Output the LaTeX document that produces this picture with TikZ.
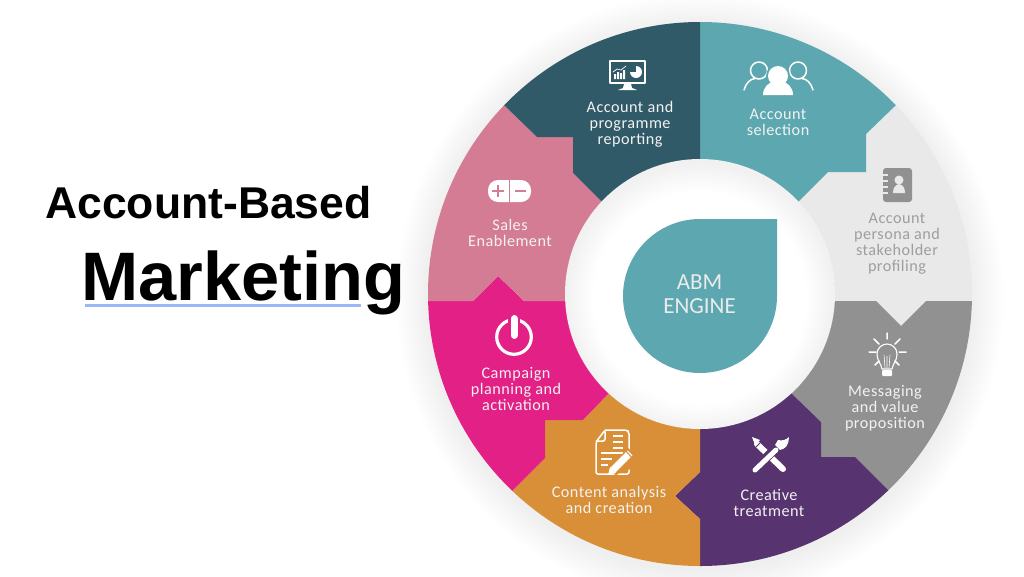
\documentclass[tikz,border=0pt]{standalone}
\usepackage{fontspec}
\setmainfont{Liberation Sans}
\newfontfamily\labfont[LetterSpace=3]{Carlito}
\newfontfamily\engfont{Carlito}
\definecolor{cteal}{HTML}{5DA8B0}
\definecolor{cdark}{HTML}{305A68}
\definecolor{clight}{HTML}{E9E9E9}
\definecolor{cgray}{HTML}{919191}
\definecolor{cpurple}{HTML}{57336F}
\definecolor{corange}{HTML}{D98F38}
\definecolor{cmag}{HTML}{E32085}
\definecolor{cpink}{HTML}{D47C94}
\definecolor{cunder}{HTML}{9AB8F5}
\tikzset{
  lab/.style={align=center,inner sep=0pt,font=\labfont\fontsize{16.2}{16}\selectfont,text=white!95!black},
  ico/.style={draw=white,line width=1.5pt,line cap=round,line join=round},
}
\begin{document}
\begin{tikzpicture}[x=1pt,y=-1pt]
\useasboundingbox (0,0) rectangle (1024,576);
\fill[white] (0,0) rectangle (1024,576);
% outer soft shadow
\foreach \i in {1,...,16} \fill[black,opacity=0.004] (700,298) circle ({272+\i*2});
% title
\draw[cunder,line width=3pt] (85,305) -- (361,305);
\node[anchor=base west,inner sep=0pt,font=\fontsize{44.5}{44.5}\selectfont\bfseries] (t1) at (45,218) {Account-Based};
\node[anchor=base west,inner sep=0pt,font=\fontsize{68.6}{68.6}\selectfont\bfseries] (t2) at (81,300) {Marketing};
% ring
\begin{scope}
\clip (700,294) circle (272);
\fill[clight] (700,294)--(770,230)--(799,201)--(828,172)--(866,172)--(866,134)--(895,106)--(925,77)--(1010,77)--(1010,301)--(926,301)--(901,326)--(876,301)--(700,301)--cycle;
\fill[cteal] (700,294)--(700,0)--(925,0)--(925,77)--(895,106)--(866,134)--(866,172)--(828,172)--(799,201)--(770,230)--cycle;
\fill[cgray] (700,301)--(876,301)--(901,326)--(926,301)--(1010,301)--(1010,532)--(930,532)--(887,489)--(855,457)--(821,457)--(821,422)--(792,394)--(760,362)--(700,294)--cycle;
\fill[cpurple] (700,294)--(760,362)--(792,394)--(821,422)--(821,457)--(855,457)--(887,489)--(930,532)--(930,576)--(700,576)--(700,519)--(675,496)--(700,472)--cycle;
\fill[corange] (700,294)--(700,472)--(675,496)--(700,519)--(700,576)--(470,576)--(470,533)--(513,490)--(545,458)--(545,420)--(583,420)--(608,394)--(640,362)--cycle;
\fill[cmag] (700,294)--(640,362)--(608,394)--(583,420)--(545,420)--(545,458)--(513,490)--(470,533)--(390,533)--(390,301)--(473,301)--(498,276)--(524,301)--(700,301)--cycle;
\fill[cpink] (700,301)--(524,301)--(498,276)--(473,301)--(390,301)--(390,72)--(470,72)--(505,106)--(537,137)--(573,137)--(573,173)--(601,201)--(630,230)--(700,294)--cycle;
\fill[cdark] (700,294)--(630,230)--(601,201)--(573,173)--(573,137)--(537,137)--(505,106)--(470,72)--(470,0)--(700,0)--cycle;
\end{scope}
% inner white hole with soft shade
\fill[white] (700,294) circle (135);
\begin{scope}
\clip (700,294) circle (135);
\foreach \i in {1,...,14} \fill[black,opacity=0.004,even odd rule] (700,294) circle (136) (700,298) circle ({135-\i*2});
\end{scope}
% central drop
\fill[cteal] (777,219) -- (777,296) arc (0:270:77 and 77) -- cycle;
\node[align=center,inner sep=0pt,text=white!92!black,font=\engfont\fontsize{23}{23.5}\selectfont] (eng) at (699.5,294) {ABM\\ENGINE};
% labels
\node[lab] (l1) at (630,124) {Account and\\programme\\reporting};
\node[lab] (l2) at (778,122.5) {Account\\selection};
\node[lab,text=black!38] (l3) at (897,243.5) {Account\\persona and\\stakeholder\\profiling};
\node[lab] (l4) at (885,408.5) {Messaging\\and value\\proposition};
\node[lab] (l5) at (769,502.5) {Creative\\treatment};
\node[lab] (l6) at (609,499.5) {Content analysis\\and creation};
\node[lab] (l7) at (516,388.5) {Campaign\\planning and\\activation};
\node[lab] (l8) at (510,232.5) {Sales\\Enablement};
% icon: monitor
\draw[ico] (610,61) rectangle (645,83);
\fill[white] (624,84)--(631,84)--(632,88)--(637,90)--(618,90)--(623,88)--cycle;
\fill[white] (614,74) rectangle (616,79) (617,72) rectangle (619,79) (620,73) rectangle (622,79) (623,70) rectangle (625,79);
\draw[white,line width=.7pt] (613,72)--(617,69)--(621,70)--(626,66);
\fill[white] (636,72) -- (636,66) arc (270:540:6) -- cycle;
% icon: people
\draw[ico] (759,70.5) circle (8.5) (798,70.5) circle (8.5);
\draw[ico] (744,90) .. controls (746,83) and (750,79) .. (755,78.5);
\draw[ico] (813,90) .. controls (811,83) and (807,79) .. (802,78.5);
\fill[cteal] (778,76) circle (12);
\fill[white] (778,76) circle (10);
\fill[white] (763,95) .. controls (763,87) and (769,82) .. (775,81) -- (781,81) .. controls (787,82) and (793,87) .. (793,95) -- cycle;
% icon: notebook
\fill[cgray,rounded corners=3pt] (883,168) rectangle (912,202);
\draw[clight,line width=1.4pt] (882,175)--(888,175) (882,181)--(888,181) (882,187)--(888,187) (882,193)--(888,193);
\fill[clight] (899,180) circle (4.5);
\fill[clight] (893,193) .. controls (893,188) and (895,185) .. (899,184) .. controls (903,185) and (905,188) .. (905,193) -- cycle;
% icon: bulb
\draw[ico] (887,333)--(887,339) (869,352)--(876,352) (899,352)--(906,352) (874,339)--(879,344) (900,339)--(895,344) (875,365)--(879,361) (899,365)--(895,361);
\draw[ico,line width=1.1pt] (882,369) .. controls (881,363) and (877,361) .. (877,354) .. controls (877,348) and (882,344) .. (887,344) .. controls (892,344) and (897,348) .. (897,354) .. controls (897,361) and (893,363) .. (892,369) -- cycle;
\draw[white,line width=.6pt] (885,368)--(884,355) (889,368)--(890,355) (887,368)--(887,356);
\fill[white,rounded corners=1pt] (882,370) rectangle (892,376);
% icon: pencil and brush
\draw[white,line width=6pt,line cap=round] (757,444)--(783,469);
\fill[white] (752,437)--(760,440)--(755,445)--cycle;
\draw[cpurple,line width=1pt] (756,447)--(761,442);
\draw[cpurple,line width=9pt] (757,467)--(775,449);
\draw[white,line width=5pt,line cap=round] (755,470)--(776,450);
\fill[white] (778,440) .. controls (782,441) and (786,440) .. (789,437) .. controls (789,444) and (786,449) .. (780,450) -- (775,445) -- cycle;
% icon: document
\draw[ico,rounded corners=2pt] (605,430) -- (627,430) -- (629,432) -- (629,451);
\draw[ico,rounded corners=2pt] (629,470)--(629,474)--(596,474)--(596,442)--(605,430)--(605,441)--(596,441);
\draw[white,line width=1.3pt] (613,436)--(623,436) (613,442)--(623,442) (613,448)--(623,448) (601,453)--(623,453) (601,459)--(612,459) (601,465)--(608,465);
\draw[corange,line width=11pt] (612,472)--(632,452);
\draw[white,line width=7pt] (613,470)--(630,453);
\fill[white] (608,475)--(610,467)--(616,473)--cycle;
\draw[corange,line width=1pt] (626,451)--(632,458);
% icon: power
\draw[white,line width=3.2pt] (514,337) circle (17.3);
\draw[cmag,line width=12pt] (514,310)--(514,335);
\draw[white,line width=7pt,line cap=round] (514,318.5)--(514,335.5);
% icon: plus-minus
\fill[white,rounded corners=10pt] (488,180) rectangle (531,202);
\fill[cpink] (508.8,178) rectangle (510.2,204);
\draw[cpink,line width=1.6pt] (492,191)--(504,191) (498,185)--(498,197) (515,191)--(526,191);
\end{tikzpicture}
\end{document}
